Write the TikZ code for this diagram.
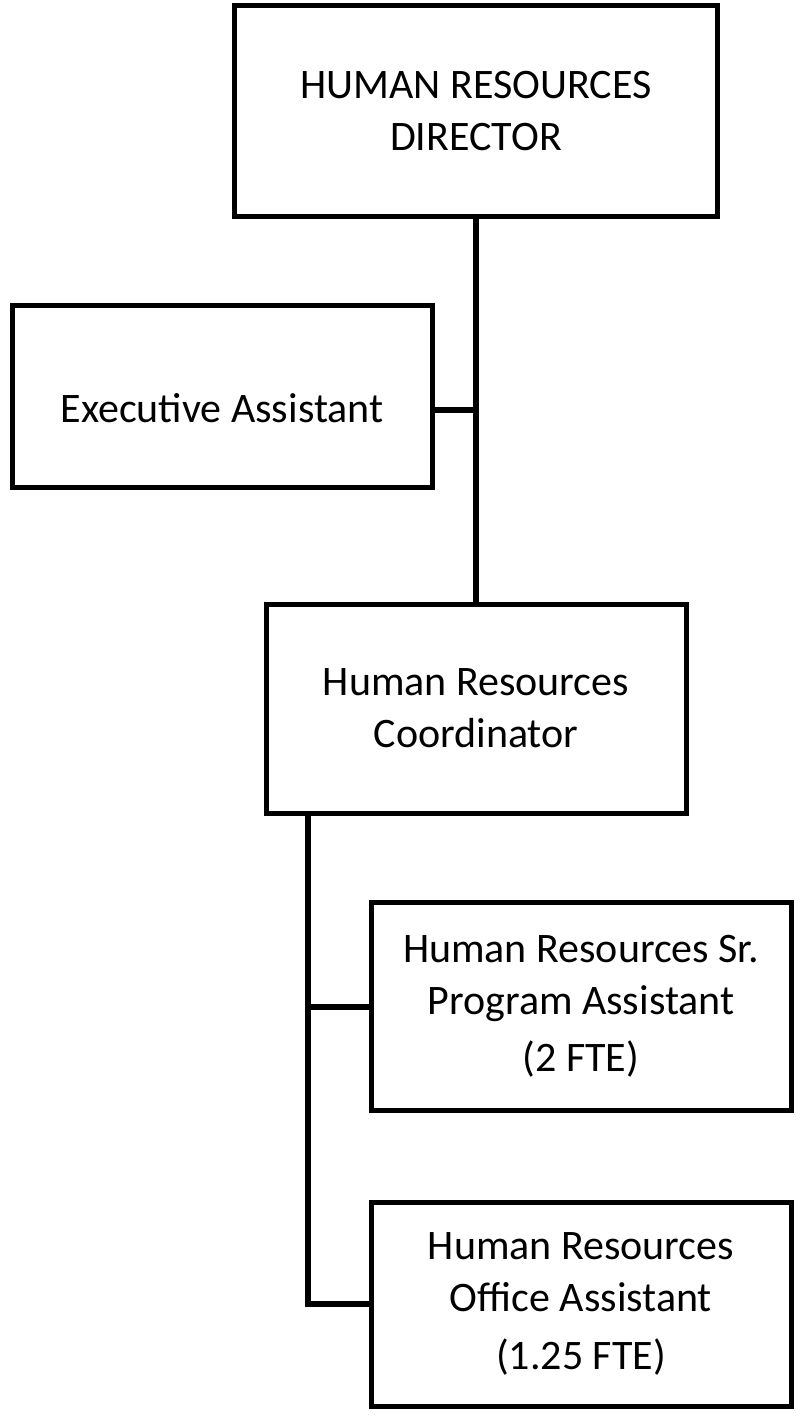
\documentclass[tikz,border=0pt]{standalone}
\usepackage{fontspec}
\setmainfont{Carlito}
\usepackage{tikz}

\tikzset{
    post/.style={draw, line width=3.75pt, align=center, inner sep=0pt,
        font=\fontsize{31.5}{39}\selectfont},
    edge/.style={line width=4pt}
}

\begin{document}
\begin{tikzpicture}[x=0.75pt, y=-0.75pt]
    \useasboundingbox (0,0) rectangle (799,1416);

    % Define nodes
    \node[post, minimum width=483*0.75pt, minimum height=210*0.75pt] (dir) at (476,111) {HUMAN RESOURCES\\DIRECTOR};

    \node[post, minimum width=420*0.75pt, text height=87.75pt, text depth=48.75pt,
        anchor=base] (exec) at (222,422) {Executive Assistant};

    \node[post, minimum width=420*0.75pt, minimum height=209*0.75pt] (coord) at (476,708.5) {Human Resources\\Coordinator};

    \node[post, minimum width=420*0.75pt, minimum height=208*0.75pt] (sr) at (581,1006) {Human Resources Sr.\\Program Assistant\\[4pt](2 FTE)};
    \node[post, minimum width=420*0.75pt, minimum height=204*0.75pt] (office) at (581,1304) {Human Resources\\Office Assistant\\[4pt](1.25 FTE)};

    \coordinate (j1) at (476,410);
    \coordinate (j2) at (308,1007);
    \coordinate (j3) at (308,1304);

    % Draw edges
    \draw[edge] (coord.north) -- (dir.south);
    \draw[edge] (exec.east |- j1) -- (j1 -| coord.north);

    \draw[edge] (j3 |- coord.south) -- (j3) -- (office.west);
    \draw[edge] (j2) -- (sr.west |- j2);
\end{tikzpicture}
\end{document}
